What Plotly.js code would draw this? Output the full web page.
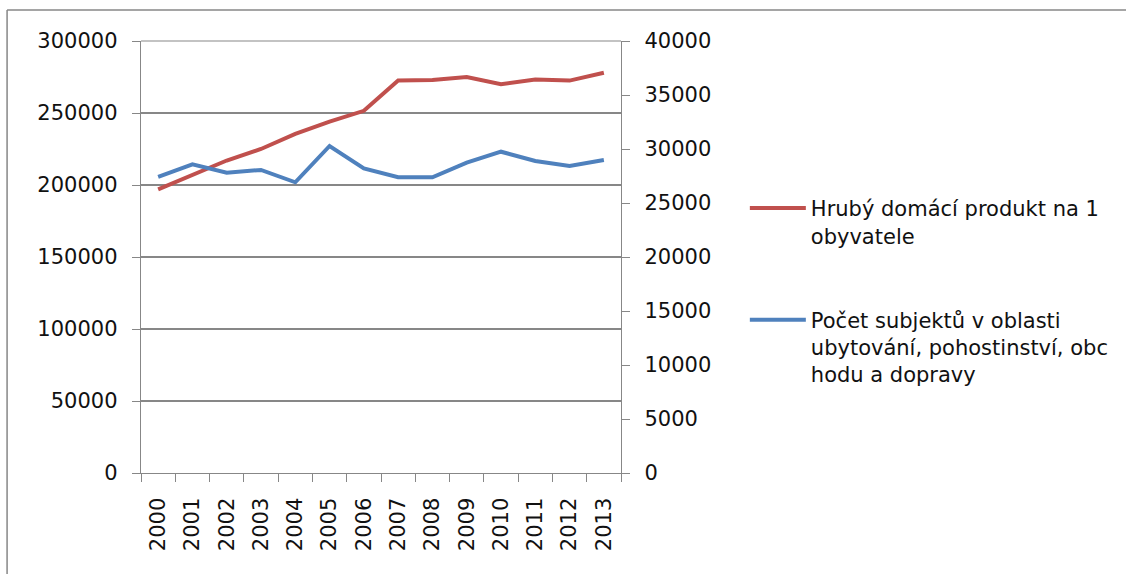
<!DOCTYPE html>
<html>
<head>
<meta charset="utf-8">
<script src="https://cdn.plot.ly/plotly-3.0.1.min.js"></script>
<style>html,body{margin:0;padding:0;background:#fff;}#chart{width:1126px;height:574px;}</style>
</head>
<body>
<div id="chart"></div>
<script>
const years = ["2000","2001","2002","2003","2004","2005","2006","2007","2008","2009","2010","2011","2012","2013"];
const hdpNaObyvatele = [197000,207000,217000,225000,235500,244000,251500,272500,273000,275000,270000,273300,272500,278000];
const pocetSubjektu = [27430,28580,27800,28060,26920,30280,28210,27380,27380,28730,29750,28890,28430,28980];
const nameHdp = "Hrubý domácí produkt na 1<br>obyvatele";
const namePocet = "Počet subjektů v oblasti<br>ubytování, pohostinství, obc<br>hodu a dopravy";
const leftTicks = [0,50000,100000,150000,200000,250000,300000];
const rightTicks = [0,5000,10000,15000,20000,25000,30000,35000,40000];

const gray = "#878787";
const fnt = {family: "DejaVu Sans", size: 21, color: "#111"};

const traces = [
  {x: years, y: hdpNaObyvatele, name: nameHdp, type: "scatter", mode: "lines",
   line: {color: "#C0504D", width: 4}, legendgroup: "a", yaxis: "y"},
  {x: years, y: pocetSubjektu, name: namePocet, type: "scatter", mode: "lines",
   line: {color: "#4F81BD", width: 4}, legendgroup: "b", yaxis: "y2"}
];

const layout = {
  width: 1126, height: 574,
  margin: {l: 141, r: 505, t: 41, b: 101, pad: 0},
  paper_bgcolor: "#fff", plot_bgcolor: "#fff",
  font: fnt,
  showlegend: true,
  legend: {x: 1.258, xanchor: "left", y: 0.66, yanchor: "top", font: fnt,
           itemwidth: 56, valign: "top", tracegroupgap: 54, bgcolor: "rgba(0,0,0,0)"},
  xaxis: {type: "category", range: [-0.5, 13.5], tickson: "boundaries", ticks: "outside", ticklen: 8,
          tickcolor: gray, showline: true, linecolor: gray, linewidth: 1.3,
          tickangle: -90, showgrid: false, zeroline: false, tickfont: fnt,
          ticklabelstandoff: 15},
  yaxis: {range: [0, 300000], tickvals: leftTicks, tickformat: "d", ticks: "outside",
          ticklen: 8, tickcolor: gray, showline: true, linecolor: gray, linewidth: 1.3,
          showgrid: true, gridcolor: gray, gridwidth: 1.2, zeroline: false,
          tickfont: fnt, ticklabelstandoff: 10},
  yaxis2: {range: [0, 40000], tickvals: rightTicks, tickformat: "d", overlaying: "y",
           side: "right", ticks: "outside", ticklen: 8, tickcolor: gray, showline: true,
           linecolor: gray, linewidth: 1.3, showgrid: false, zeroline: false,
           tickfont: fnt, ticklabelstandoff: 10},
  shapes: [
    {type: "line", xref: "paper", yref: "paper", x0: 0, x1: 1, y0: 1, y1: 1, layer: "below",
     line: {color: gray, width: 1.2}},
    {type: "line", xref: "paper", yref: "paper", x0: -0.279, x1: 2.2, y0: 1.0718, y1: 1.0718,
     line: {color: gray, width: 1.5}},
    {type: "line", xref: "paper", yref: "paper", x0: -0.279, x1: -0.279, y0: 1.0718, y1: -0.5,
     line: {color: gray, width: 1.5}}
  ]
};

Plotly.newPlot("chart", traces, layout, {staticPlot: true, displayModeBar: false});
</script>
</body>
</html>
